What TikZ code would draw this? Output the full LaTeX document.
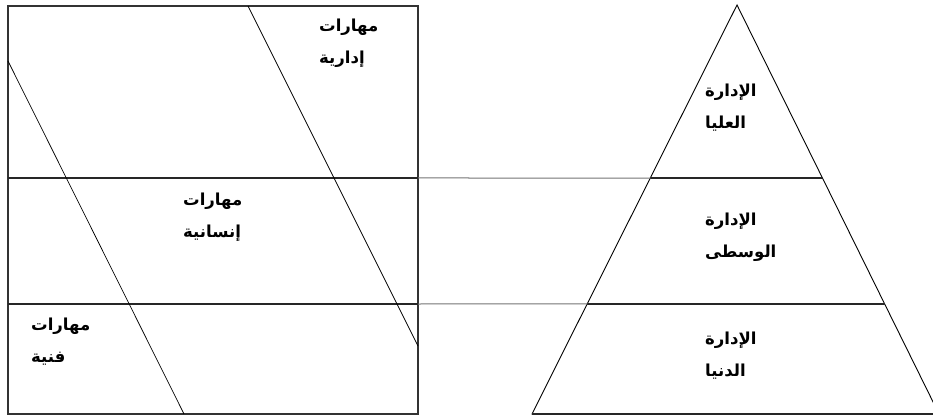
\documentclass[tikz,border=0pt]{standalone}
\usepackage{fontspec}
\newfontfamily\arabicfont[Script=Arabic]{DejaVu Sans}
\TeXXeTstate=1
\usetikzlibrary{calc}

\begin{document}
\begin{tikzpicture}[
x=1pt,y=-1pt,
frame/.style={draw=black!80,line width=1.6pt},
tier/.style={draw=black!85,line width=1.2pt},
slant/.style={draw=black,line width=0.7pt},
link/.style={draw=black!55,line width=1pt},
lbl/.style={font=\arabicfont\bfseries\fontsize{16.5}{32}\selectfont,
align=left,inner sep=0pt,anchor=base west}
]
\clip (0,0) rectangle (933,419);

% skills box
\coordinate (bnw) at (8,6);
\coordinate (bse) at (418,414);
\coordinate (b1w) at (8,178);
\coordinate (b1e) at (418,178);
\coordinate (b2w) at (8,304);
\coordinate (b2e) at (418,304);
\coordinate (s1a) at (8,61);
\coordinate (s1b) at (184,414);
\coordinate (s2a) at (248,6);
\coordinate (s2b) at (418,346);

% pyramid
\coordinate (apex) at (737,5);
\coordinate (pbl) at (532,414);
\coordinate (pbr) at (939,414);
\coordinate (p1w) at ($(apex)!0.423!(pbl)$);
\coordinate (p1e) at ($(apex)!0.423!(pbr)$);
\coordinate (p2w) at ($(apex)!0.731!(pbl)$);
\coordinate (p2e) at ($(apex)!0.731!(pbr)$);

\draw[frame] (bnw) rectangle (bse);
\draw[tier] (b1w) -- (b1e);
\draw[tier] (b2w) -- (b2e);
\draw[slant] (s1a) -- (s1b);
\draw[slant] (s2a) -- (s2b);

\draw[slant,line width=0.9pt] (apex) -- (pbl) -- (pbr) -- cycle;
\draw[tier] (p1w) -- (p1e);
\draw[tier] (p2w) -- (p2e);
\draw[tier,line width=1.6pt] (pbl) -- (pbr);

\draw[link] (b1e) -- (p1w);
\draw[link] (b2e) -- (p2w);

% base anchor sits on the last line
\node[lbl] (admin) at (319,64) {\beginR مهارات\endR\\\beginR إدارية\endR};
\node[lbl] (human) at (183,238) {\beginR مهارات\endR\\\beginR إنسانية\endR};
\node[lbl] (tech) at (31,362) {\beginR مهارات\endR\\\beginR فنية\endR};

\node[lbl] (top) at (705,129) {\beginR الإدارة\endR\\\beginR العليا\endR};
\node[lbl] (mid) at (705,258) {\beginR الإدارة\endR\\\beginR الوسطى\endR};
\node[lbl] (low) at (705,376) {\beginR الإدارة\endR\\\beginR الدنيا\endR};
\end{tikzpicture}
\end{document}
